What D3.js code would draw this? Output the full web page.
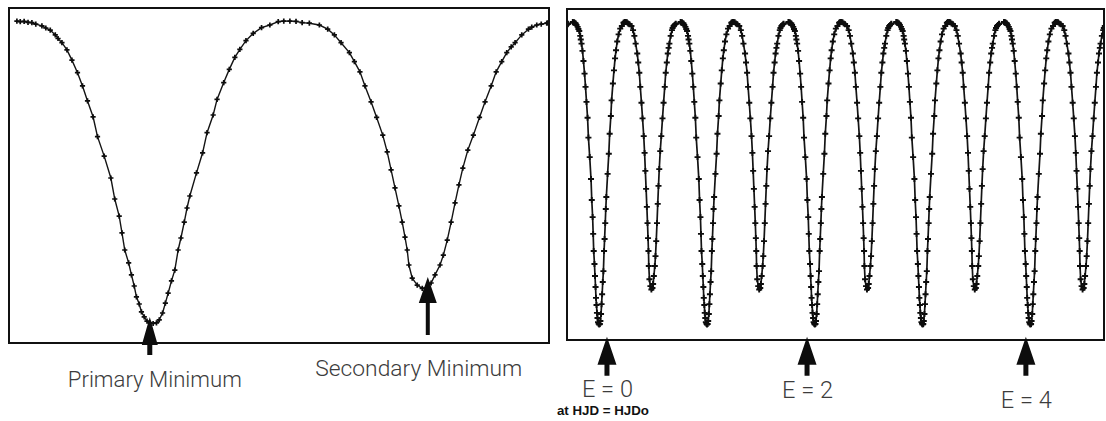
<!DOCTYPE html>
<html>
<head>
<meta charset="utf-8">
<script src="https://cdn.jsdelivr.net/npm/d3@7"></script>
<style>
  html, body { margin: 0; padding: 0; background: #fff; }
  svg { display: block; }
  .lbl { font-family: "Roboto", "Liberation Sans", Arial, sans-serif; font-weight: 300; fill: #3c3c3c; }
  .sub { font-family: "Liberation Sans", Arial, sans-serif; font-weight: bold; fill: #111; }
</style>
</head>
<body>
<script>
// ---- DATA ----
// Phased light curve of the eclipsing binary (left panel): orbital phase and relative flux
const phase = [-0.243,-0.237,-0.230,-0.223,-0.216,-0.209,-0.198,-0.191,-0.183,-0.174,-0.169,-0.162,-0.153,-0.144,-0.134,-0.125,-0.116,-0.106,-0.098,-0.086,-0.074,-0.067,-0.059,-0.054,-0.049,-0.042,-0.037,-0.032,-0.028,-0.023,-0.019,-0.014,-0.009,-0.004,0.002,0.008,0.013,0.019,0.024,0.029,0.035,0.041,0.047,0.052,0.058,0.063,0.068,0.080,0.091,0.099,0.110,0.117,0.129,0.139,0.149,0.158,0.169,0.182,0.197,0.212,0.227,0.237,0.248,0.259,0.270,0.283,0.301,0.316,0.328,0.340,0.355,0.364,0.374,0.383,0.394,0.404,0.415,0.423,0.430,0.437,0.444,0.450,0.455,0.459,0.462,0.468,0.477,0.486,0.496,0.502,0.509,0.518,0.524,0.531,0.538,0.545,0.552,0.559,0.568,0.578,0.589,0.599,0.610,0.619,0.629,0.638,0.646,0.653,0.665,0.677,0.683,0.692,0.700,0.710,0.712];
const flux  = [1.003,1.001,1.002,0.999,0.998,0.993,0.987,0.980,0.973,0.957,0.945,0.931,0.907,0.873,0.831,0.787,0.737,0.684,0.618,0.553,0.480,0.410,0.353,0.297,0.240,0.197,0.157,0.120,0.084,0.060,0.034,0.017,0.003,-0.002,-0.005,-0.003,0.007,0.030,0.063,0.096,0.137,0.173,0.240,0.280,0.333,0.380,0.420,0.497,0.564,0.631,0.690,0.742,0.798,0.842,0.882,0.909,0.938,0.962,0.981,0.990,1.001,1.003,1.003,1.002,0.998,0.996,0.990,0.976,0.957,0.931,0.898,0.868,0.834,0.787,0.734,0.682,0.623,0.567,0.507,0.447,0.387,0.333,0.283,0.240,0.190,0.146,0.123,0.112,0.117,0.130,0.157,0.190,0.223,0.273,0.333,0.397,0.457,0.513,0.573,0.623,0.682,0.734,0.787,0.834,0.868,0.898,0.917,0.931,0.957,0.976,0.983,0.990,0.993,0.996,0.997];

// Right panel: the same light curve repeated over successive epochs (cycle numbers)
const epochs = [-1, 0, 1, 2, 3, 4, 5];

// Annotations
const minLabels   = ["Primary Minimum", "Secondary Minimum"];
const minPhase    = [-0.004, 0.496];     // arrow position (phase)
const minTip      = [0.017, 0.150];      // arrow tip (flux)
const minTail     = [-0.110, -0.043];    // arrow tail (flux)
const epochLabels = ["E = 0", "E = 2", "E = 4"];
const epochArrowE = [0.074, 1.930, 3.960]; // arrow position (cycles)
const epochTip    = -0.046;
const epochTail   = -0.176;
const epochNote   = "at HJD = HJDo";

// ---- LAYOUT ----
const W = 1106, H = 421;
const L = {x0: 9, x1: 549, y0: 8, y1: 343};
const R = {x0: 567, x1: 1104, y0: 9, y1: 340};

const svg = d3.select("body").append("svg").attr("width", W).attr("height", H);

const xL = d3.scaleLinear().domain([-0.2572, 0.7140]).range([L.x0, L.x1]);
const yL = d3.scaleLinear().domain([-0.07, 1.0467]).range([L.y1, L.y0]);
const xR = d3.scaleLinear().domain([-0.2968, 4.6846]).range([R.x0, R.x1]);
const yR = d3.scaleLinear().domain([-0.0565, 1.0465]).range([R.y1, R.y0]);

const leftPts = phase.map((p, i) => ({t: p, f: flux[i]}));
const rightPts = [];
epochs.forEach(e => phase.forEach((p, i) => {
  const t = e + p;
  if (t >= xR.domain()[0] - 0.01 && t <= xR.domain()[1] + 0.01) rightPts.push({t, f: flux[i]});
}));
rightPts.sort((a, b) => a.t - b.t);

const defs = svg.append("defs");
defs.append("clipPath").attr("id", "clipR").append("rect")
  .attr("x", R.x0).attr("y", R.y0).attr("width", R.x1 - R.x0).attr("height", R.y1 - R.y0);
defs.append("clipPath").attr("id", "clipL").append("rect")
  .attr("x", L.x0).attr("y", L.y0).attr("width", L.x1 - L.x0).attr("height", L.y1 - L.y0);

function drawPanel(pts, x, y, box, clip, ms, lw, mw) {
  const g = svg.append("g");
  const inner = g.append("g").attr("clip-path", `url(#${clip})`);
  inner.append("path")
    .datum(pts)
    .attr("fill", "none").attr("stroke", "#141414").attr("stroke-width", lw)
    .attr("d", d3.line().x(d => x(d.t)).y(d => y(d.f)));
  inner.selectAll("path.m").data(pts).join("path")
    .attr("class", "m")
    .attr("transform", d => `translate(${x(d.t)},${y(d.f)})`)
    .attr("d", `M${-ms},0H${ms}M0,${-ms}V${ms}`)
    .attr("stroke", "#0d0d0d").attr("stroke-width", mw);
  g.append("rect")
    .attr("x", box.x0).attr("y", box.y0)
    .attr("width", box.x1 - box.x0).attr("height", box.y1 - box.y0)
    .attr("fill", "none").attr("stroke", "#111").attr("stroke-width", 2);
}

drawPanel(leftPts, xL, yL, L, "clipL", 2.6, 1.4, 1.7);
drawPanel(rightPts, xR, yR, R, "clipR", 3, 1.7, 1.9);

function arrow(cx, yTip, yTail, headH, headW, shaftW) {
  const yb = yTip + headH;
  svg.append("path")
    .attr("d", `M${cx},${yTip}L${cx + headW / 2},${yb}L${cx + shaftW / 2},${yb}L${cx + shaftW / 2},${yTail}` +
               `L${cx - shaftW / 2},${yTail}L${cx - shaftW / 2},${yb}L${cx - headW / 2},${yb}Z`)
    .attr("fill", "#0d0d0d");
}

// Left arrows and labels
const minLabelDx = [5, -9];
const minLabelY  = [387, 376];
const minLabelW  = [174, 207];
minLabels.forEach((lab, i) => {
  const cx = xL(minPhase[i]);
  arrow(cx, yL(minTip[i]), yL(minTail[i]), i === 0 ? 28 : 26, i === 0 ? 16 : 18, i === 0 ? 5 : 4);
  svg.append("text").attr("class", "lbl")
    .attr("x", cx + minLabelDx[i]).attr("y", minLabelY[i])
    .attr("text-anchor", "middle").attr("font-size", 22)
    .attr("textLength", minLabelW[i]).attr("lengthAdjust", "spacingAndGlyphs")
    .text(lab);
});

// Right arrows and labels
const epochLabelY = [397, 398, 408];
epochLabels.forEach((lab, i) => {
  const cx = xR(epochArrowE[i]);
  arrow(cx, yR(epochTip), yR(epochTail), 28, 19, 5);
  svg.append("text").attr("class", "lbl")
    .attr("x", cx + 0.5).attr("y", epochLabelY[i])
    .attr("text-anchor", "middle").attr("font-size", 23)
    .attr("textLength", 51).attr("lengthAdjust", "spacingAndGlyphs")
    .text(lab);
});
svg.append("text").attr("class", "sub")
  .attr("x", xR(epochArrowE[0]) - 4).attr("y", 415)
  .attr("text-anchor", "middle").attr("font-size", 12)
  .attr("textLength", 92).attr("lengthAdjust", "spacingAndGlyphs")
  .text(epochNote);
</script>
</body>
</html>
